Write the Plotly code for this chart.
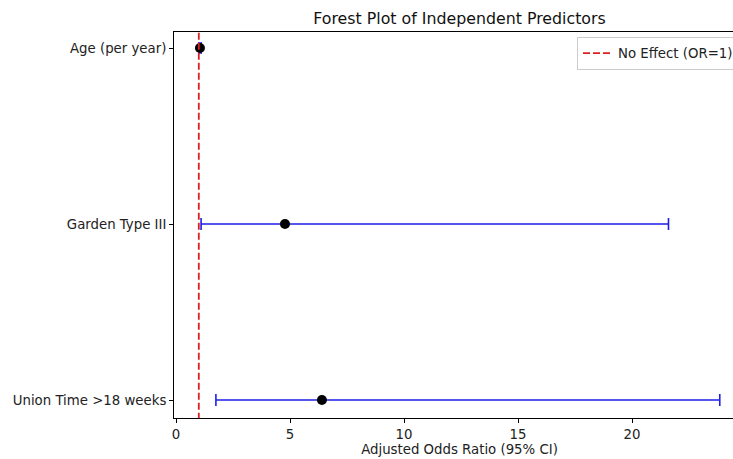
import plotly.graph_objects as go

predictors = ["Age (per year)", "Garden Type III", "Union Time >18 weeks"]
odds_ratios = [1.05, 4.78, 6.4]
ci_lower = [1.01, 1.1, 1.75]
ci_upper = [1.10, 21.6, 23.85]
x_ticks = [0, 5, 10, 15, 20]

ypos = list(range(len(predictors)))
err_plus = [u - o for u, o in zip(ci_upper, odds_ratios)]
err_minus = [o - l for o, l in zip(odds_ratios, ci_lower)]

FONT = "DejaVu Sans"
TICK = 13.3
fig = go.Figure()

fig.add_trace(go.Scatter(
    x=odds_ratios, y=ypos, mode="markers",
    marker=dict(color="black", size=10),
    error_x=dict(type="data", symmetric=False, array=err_plus, arrayminus=err_minus,
                 color="#1f1fe6", thickness=1.6, width=6),
    showlegend=False, hoverinfo="skip",
))

fig.add_trace(go.Scatter(
    x=[1, 1], y=[-0.2, 2.3], mode="lines",
    line=dict(color="#dd2020", width=1.8, dash="7px,3px"),
    name="No Effect (OR=1)", showlegend=True,
))

L, R, T, B = 174, 745, 32, 418
W = 760
fig.update_layout(
    width=W, height=459,
    margin=dict(l=L, r=W - R, t=T, b=459 - B, autoexpand=False),
    paper_bgcolor="white", plot_bgcolor="white",
    font=dict(family=FONT, size=TICK, color="#222"),
    title=dict(text="Forest Plot of Independent Predictors", x=0.5, xanchor="center",
               xref="paper", y=1 - 18/459, yanchor="middle",
               font=dict(family=FONT, size=15.8, color="#111")),
    legend=dict(x=(577 - L) / (R - L), y=(B - 37) / (B - T), xanchor="left", yanchor="top",
                bgcolor="white", bordercolor="#cccccc", borderwidth=1,
                font=dict(family=FONT, size=TICK, color="#222")),
    xaxis=dict(range=[-2/22.8, (R - 176)/22.8], tickvals=x_ticks,
               ticktext=[str(t) for t in x_ticks], automargin=False,
               showgrid=False, zeroline=False, showline=True, linecolor="black",
               linewidth=1, mirror=True, ticks="outside", ticklen=4, tickcolor="black",
               tickfont=dict(family=FONT, size=TICK, color="#222"),
               title=dict(text="Adjusted Odds Ratio (95% CI)", standoff=3,
                          font=dict(family=FONT, size=TICK, color="#222"))),
    yaxis=dict(range=[2.102, -0.091], tickvals=ypos, ticktext=predictors, automargin=False,
               showgrid=False, zeroline=False, showline=True, linecolor="black",
               linewidth=1, mirror=True, ticks="outside", ticklen=4, tickcolor="black",
               tickfont=dict(family=FONT, size=TICK, color="#222")),
)

fig.write_html("out.html", config={"displayModeBar": False},
               post_script="document.body.style.margin='0';document.body.style.overflow='hidden';")
